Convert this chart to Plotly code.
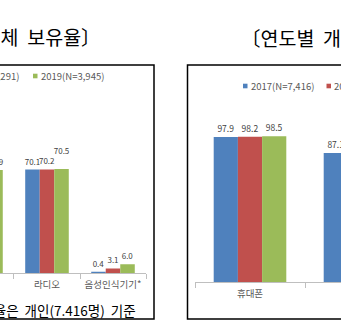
import plotly.graph_objects as go

# ---------------- data ----------------
left_categories = ["데스크톱/노트북", "라디오", "음성인식기기*"]
left_2017 = [None, 70.1, 0.4]
left_2018 = [None, 70.2, 3.1]
left_2019 = [69.9, 70.5, 6.0]
left_series_names = ["2017(N=4,378)", "2018(N=4,291)", "2019(N=3,945)"]

right_categories = ["휴대폰", "스마트폰"]
right_2017 = [97.9, 87.1]
right_2018 = [98.2, None]
right_2019 = [98.5, None]
right_series_names = ["2017(N=7,416)", "2018(N=7,416)", "2019(N=7,416)"]

NB = "\u00a0\u00a0"
left_title = "〔연도별" + NB + "가구" + NB + "매체" + NB + "보유율〕"
right_title = "〔연도별" + NB + "개인" + NB + "매체" + NB + "보유율〕"
footnote = "*음성인식기기" + NB + "보유율은" + NB + "개인(7.416명)" + NB + "기준"

colors = ["#4F81BD", "#C0504D", "#9BBB59"]

# ---------------- geometry helpers ----------------
W, H = 341, 335
def px(x):
    return x / W
def py(y):
    return 1 - y / H

FONT = "Noto Sans CJK KR"

T = "%{y:.1f}"
RAISED = "%{y:.1f}<br>\u00a0"   # label lifted by one line (as in the reference's staggered labels)
left_templates = [[T, T, T], [T, T, T], [T, RAISED, T]]

fig = go.Figure()

for vals, name, col, tpl in zip([left_2017, left_2018, left_2019], left_series_names, colors, left_templates):
    fig.add_trace(go.Bar(
        x=left_categories, y=vals, name=name, marker=dict(color=col, line=dict(width=0)),
        texttemplate=tpl, textposition="outside", constraintext="none",
        cliponaxis=True, textfont=dict(size=8, color="#404040", family=FONT),
        xaxis="x", yaxis="y", showlegend=False, hoverinfo="skip"))

for vals, name, col in zip([right_2017, right_2018, right_2019], right_series_names, colors):
    fig.add_trace(go.Bar(
        x=right_categories, y=vals, name=name, marker=dict(color=col, line=dict(width=0)),
        texttemplate=T, textposition="outside", constraintext="none",
        cliponaxis=True, textfont=dict(size=8.5, color="#404040", family=FONT),
        xaxis="x2", yaxis="y2", showlegend=False, hoverinfo="skip"))

# axis scaling
ymax = 110
left_base, left_scale = 273, 1.475
right_base, right_scale = 282, 1.48

axis_common = dict(
    type="category", showline=True, linecolor="#BFBFBF", linewidth=1,
    ticks="outside", ticklen=5, tickcolor="#BFBFBF", tickson="boundaries",
    showgrid=False, zeroline=False, fixedrange=True,
    tickfont=dict(size=9.5, color="#595959", family=FONT), ticklabelstandoff=3,
)

fig.update_layout(
    width=W, height=H, margin=dict(l=0, r=0, t=0, b=0),
    paper_bgcolor="white", plot_bgcolor="rgba(0,0,0,0)",
    barmode="group", bargap=0.34, bargroupgap=0,
    font=dict(family=FONT),
    xaxis=dict(domain=[0, px(146)], range=[0.288, 2.5], anchor="y",
               categoryorder="array", categoryarray=left_categories, **axis_common),
    yaxis=dict(domain=[py(left_base), py(left_base - ymax * left_scale)], range=[0, ymax],
               visible=False, anchor="x", fixedrange=True),
    xaxis2=dict(domain=[px(195), 1], range=[-0.5, -0.5 + 146 / 110], anchor="y2",
                categoryorder="array", categoryarray=right_categories, **axis_common),
    yaxis2=dict(domain=[py(right_base), py(right_base - ymax * right_scale)], range=[0, ymax],
                visible=False, anchor="x2", fixedrange=True),
)

shapes = [
    # chart frames
    dict(type="rect", xref="paper", yref="paper", x0=px(-5), x1=px(154), y0=py(319), y1=py(65),
         line=dict(color="#000000", width=1.5), fillcolor="rgba(0,0,0,0)"),
    dict(type="rect", xref="paper", yref="paper", x0=px(187.5), x1=px(360), y0=py(319), y1=py(65),
         line=dict(color="#000000", width=1.5), fillcolor="rgba(0,0,0,0)"),
]

annotations = []

def legend_item(x_sq, y_c, color, text):
    shapes.append(dict(type="rect", xref="paper", yref="paper",
                       x0=px(x_sq), x1=px(x_sq + 4.5), y0=py(y_c + 2.3), y1=py(y_c - 2.3),
                       line=dict(width=0), fillcolor=color))
    annotations.append(dict(text=text, xref="paper", yref="paper", x=px(x_sq + 5.5), y=py(y_c),
                            xanchor="left", yanchor="middle", showarrow=False,
                            font=dict(size=9.5, color="#595959", family=FONT)))

# left legend (partially cut at the left edge)
legend_item(-123, 76, colors[0], left_series_names[0])
legend_item(-52, 76, colors[1], left_series_names[1])
legend_item(33, 76, colors[2], left_series_names[2])
# right legend (cut at the right edge)
legend_item(243, 86, colors[0], right_series_names[0])
legend_item(326.5, 86, colors[1], right_series_names[1])
legend_item(410, 86, colors[2], right_series_names[2])

annotations += [
    dict(text=left_title, xref="paper", yref="paper", x=px(103), y=py(36),
         xanchor="right", yanchor="middle", showarrow=False,
         font=dict(size=19.5, color="#000000", family=FONT)),
    dict(text=right_title, xref="paper", yref="paper", x=px(239), y=py(37),
         xanchor="left", yanchor="middle", showarrow=False,
         font=dict(size=19.5, color="#000000", family=FONT)),
    dict(text=footnote, xref="paper", yref="paper", x=px(138), y=py(310),
         xanchor="right", yanchor="middle", showarrow=False,
         font=dict(size=13.5, color="#000000", family=FONT)),
]

fig.update_layout(shapes=shapes, annotations=annotations)

fig.write_html("out.html", config={"displayModeBar": False})
